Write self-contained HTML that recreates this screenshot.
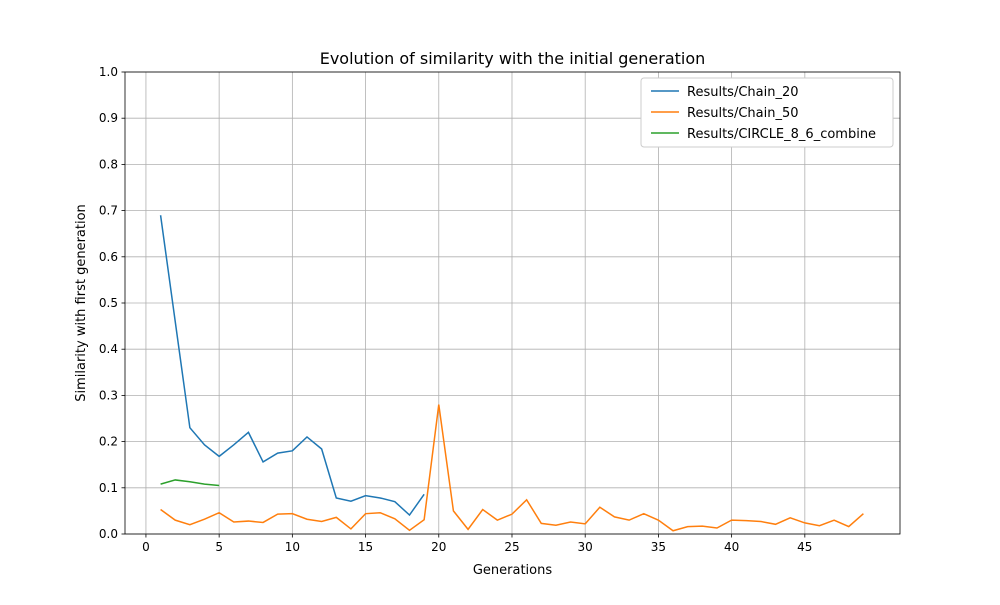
<!DOCTYPE html>
<html><head><meta charset="utf-8"><style>
body{margin:0;background:#fff;font-family:"Liberation Sans","DejaVu Sans",sans-serif;}
svg text{font-family:"DejaVu Sans","Liberation Sans",sans-serif;}
</style></head><body>
<svg id="chart" width="1000" height="600" xmlns="http://www.w3.org/2000/svg"></svg>
<script>
const chain20X=[1,2,3,4,5,6,7,8,9,10,11,12,13,14,15,16,17,18,19];
const chain20Y=[0.69,0.46,0.23,0.193,0.168,0.193,0.22,0.156,0.175,0.18,0.21,0.184,0.078,0.071,0.083,0.078,0.07,0.041,0.086];
const chain50Y=[0.053,0.03,0.02,0.032,0.046,0.026,0.028,0.025,0.043,0.044,0.032,0.027,0.036,0.011,0.044,0.046,0.033,0.008,0.031,0.28,0.05,0.01,0.053,0.03,0.043,0.074,0.023,0.019,0.026,0.022,0.058,0.037,0.03,0.044,0.03,0.007,0.016,0.017,0.013,0.03,0.029,0.027,0.021,0.035,0.024,0.018,0.03,0.016,0.044];
const circleX=[1,2,3,4,5];
const circleY=[0.108,0.117,0.113,0.108,0.105];
const xTicks=[0,5,10,15,20,25,30,35,40,45];
const yTicks=[0,0.1,0.2,0.3,0.4,0.5,0.6,0.7,0.8,0.9,1.0];
const seriesNames=["Results/Chain_20","Results/Chain_50","Results/CIRCLE_8_6_combine"];
const colors=["#1f77b4","#ff7f0e","#2ca02c"];

const L=125,R=900,T=72,B=534,XMIN=-1.43,XMAX=51.5;
const sx=v=>L+(v-XMIN)/(XMAX-XMIN)*(R-L);
const sy=v=>B-v*(B-T);
const svg=document.getElementById('chart');
const NS="http://www.w3.org/2000/svg";
function mk(tag,attrs,parent){const e=document.createElementNS(NS,tag);for(const k in attrs)e.setAttribute(k,attrs[k]);(parent||svg).appendChild(e);return e;}

xTicks.forEach(v=>{
  const g=mk('line',{x1:sx(v),x2:sx(v),y1:T,y2:B,stroke:'#b0b0b0','stroke-width':0.8});
  
  
  mk('line',{x1:sx(v),x2:sx(v),y1:B,y2:B+3.5,stroke:'#000','stroke-width':0.8});
  const t=mk('text',{x:sx(v),y:B+17,'text-anchor':'middle','font-size':12});
  t.textContent=v;
  
  
});
yTicks.forEach(v=>{
  const g=mk('line',{x1:L,x2:R,y1:sy(v),y2:sy(v),stroke:'#b0b0b0','stroke-width':0.8});
  
  
  mk('line',{x1:L-3.5,x2:L,y1:sy(v),y2:sy(v),stroke:'#000','stroke-width':0.8});
  const t=mk('text',{x:L-7,y:sy(v)+4,'text-anchor':'end','font-size':12});
  t.textContent=v.toFixed(1);
  
  
});
const chain50X=chain50Y.map((_,i)=>i+1);
[[chain20X,chain20Y],[chain50X,chain50Y],[circleX,circleY]].forEach((s,i)=>{
  const p=mk('polyline',{points:s[0].map((x,j)=>sx(x)+','+sy(s[1][j])).join(' '),fill:'none',stroke:colors[i],'stroke-width':1.5});
  
  
});
const frame=mk('rect',{x:L,y:T,width:R-L,height:B-T,fill:'none',stroke:'#000','stroke-width':0.8});



const title=mk('text',{x:(L+R)/2,y:64,'text-anchor':'middle','font-size':16});
title.textContent='Evolution of similarity with the initial generation';


const xt=mk('text',{x:(L+R)/2,y:574,'text-anchor':'middle','font-size':13});
xt.textContent='Generations';


const yt=mk('text',{x:85,y:(T+B)/2,'text-anchor':'middle','font-size':13,transform:'rotate(-90 85 '+((T+B)/2)+')'});
yt.textContent='Similarity with first generation';



const lg=mk('rect',{x:641,y:78,width:252,height:69,rx:3,fill:'#fff',stroke:'#ccc','stroke-width':1});


seriesNames.forEach((n,i)=>{
  const y=91+i*21;
  mk('line',{x1:651,x2:679,y1:y,y2:y,stroke:colors[i],'stroke-width':1.5});
  const t=mk('text',{x:687,y:y+5,'font-size':13});
  t.textContent=n;
  
  
});
</script>
</body></html>
